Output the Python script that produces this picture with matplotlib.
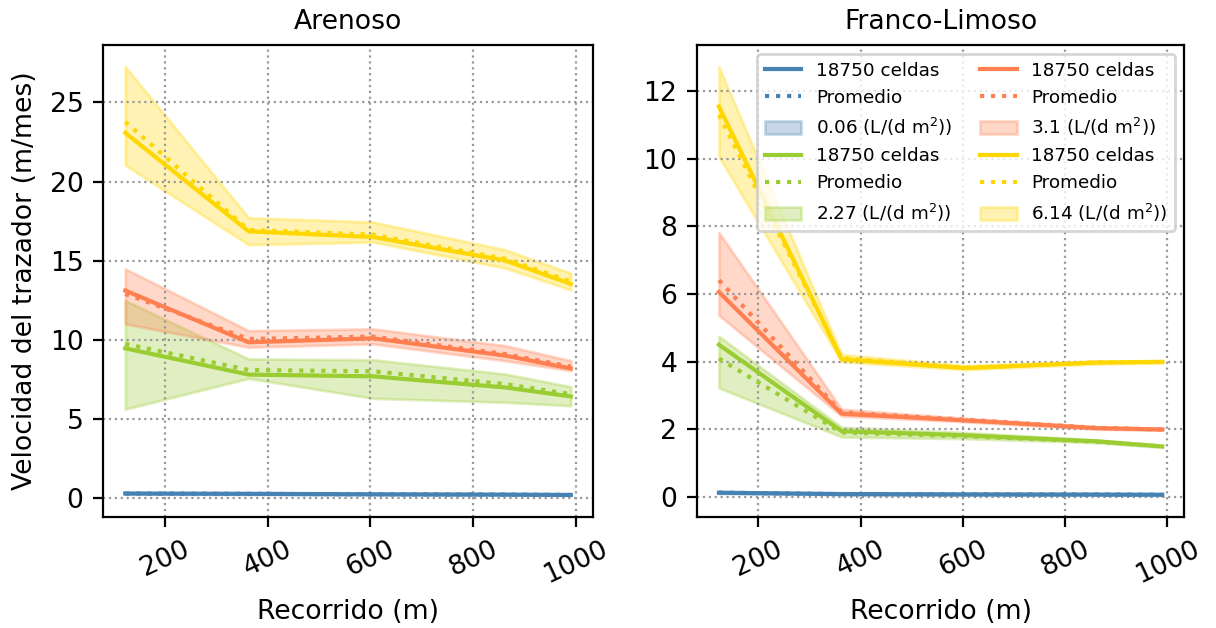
import matplotlib
matplotlib.use("Agg")
import matplotlib.pyplot as plt
import numpy as np

# Distance along the flow path (m)
recorrido = [123, 363, 605, 862, 990]

series_names = ["0.06", "2.27", "3.1", "6.14"]
colors = ["steelblue", "yellowgreen", "coral", "gold"]

# ---- Arenoso ----
are_celdas = {
    "0.06": [0.30, 0.28, 0.25, 0.23, 0.21],
    "2.27": [9.47, 7.81, 7.70, 7.00, 6.43],
    "3.1":  [13.12, 9.85, 10.10, 9.01, 8.20],
    "6.14": [23.08, 16.86, 16.50, 15.02, 13.54],
}
are_prom = {
    "0.06": [0.30, 0.28, 0.25, 0.23, 0.21],
    "2.27": [9.75, 8.10, 8.02, 7.21, 6.58],
    "3.1":  [12.91, 10.06, 10.21, 9.11, 8.31],
    "6.14": [23.78, 16.95, 16.65, 15.13, 13.69],
}
are_low = {
    "0.06": [0.26, 0.24, 0.22, 0.20, 0.18],
    "2.27": [5.63, 7.57, 6.31, 6.06, 5.84],
    "3.1":  [11.01, 9.54, 9.75, 8.69, 8.06],
    "6.14": [21.03, 16.01, 16.18, 14.54, 13.16],
}
are_high = {
    "0.06": [0.34, 0.32, 0.29, 0.27, 0.25],
    "2.27": [12.49, 8.80, 8.75, 7.85, 7.05],
    "3.1":  [14.49, 10.59, 10.70, 9.64, 8.69],
    "6.14": [27.26, 17.72, 17.45, 15.70, 14.22],
}

# ---- Franco-Limoso ----
fl_celdas = {
    "0.06": [0.12, 0.08, 0.07, 0.065, 0.06],
    "2.27": [4.50, 1.94, 1.82, 1.64, 1.49],
    "3.1":  [6.06, 2.46, 2.26, 2.03, 1.99],
    "6.14": [11.55, 4.07, 3.81, 3.97, 3.99],
}
fl_prom = {
    "0.06": [0.12, 0.08, 0.07, 0.065, 0.06],
    "2.27": [4.09, 1.90, 1.79, 1.63, 1.49],
    "3.1":  [6.41, 2.50, 2.28, 2.04, 1.99],
    "6.14": [11.30, 4.10, 3.82, 3.98, 3.99],
}
fl_low = {
    "0.06": [0.10, 0.06, 0.05, 0.05, 0.04],
    "2.27": [3.22, 1.77, 1.72, 1.60, 1.46],
    "3.1":  [5.37, 2.39, 2.22, 2.00, 1.97],
    "6.14": [10.06, 3.99, 3.76, 3.93, 3.96],
}
fl_high = {
    "0.06": [0.14, 0.10, 0.09, 0.08, 0.08],
    "2.27": [4.75, 2.06, 1.90, 1.68, 1.52],
    "3.1":  [7.82, 2.59, 2.32, 2.07, 2.02],
    "6.14": [12.73, 4.21, 3.88, 4.02, 4.03],
}

plt.rcParams["font.family"] = ["DejaVu Sans"]

fig = plt.figure(figsize=(6.08, 3.14), dpi=200)
ax1 = fig.add_axes([0.0847, 0.177, 0.403, 0.751])
ax2 = fig.add_axes([0.573, 0.177, 0.401, 0.751])


def draw(ax, celdas, prom, low, high):
    for name, c in zip(series_names, colors):
        ax.plot(recorrido, celdas[name], color=c, lw=1.5, label="18750 celdas")
        ax.plot(recorrido, prom[name], color=c, lw=1.5, ls=":", label="Promedio")
        ax.fill_between(recorrido, low[name], high[name], color=c, alpha=0.3,
                        label=name + r" (L/(d m$^2$))")
    ax.grid(True, ls=":", color="0.6", lw=0.8)
    ax.set_xlabel("Recorrido (m)", fontsize=9.6)
    ax.set_xticks([200, 400, 600, 800, 1000])
    ax.tick_params(axis="both", labelsize=9.6)
    for lbl in ax.get_xticklabels():
        lbl.set_rotation(25)


draw(ax1, are_celdas, are_prom, are_low, are_high)
draw(ax2, fl_celdas, fl_prom, fl_low, fl_high)

ax1.set_title("Arenoso", fontsize=9.6)
ax2.set_title("Franco-Limoso", fontsize=9.6)
ax1.set_ylabel("Velocidad del trazador (m/mes)", fontsize=9.6)
ax1.set_yticks([0, 5, 10, 15, 20, 25])
ax2.set_yticks([0, 2, 4, 6, 8, 10, 12])

ax2.legend(ncol=2, loc="upper right", fontsize=6.6, columnspacing=1.5)

fig.savefig("out.png", dpi=200)
